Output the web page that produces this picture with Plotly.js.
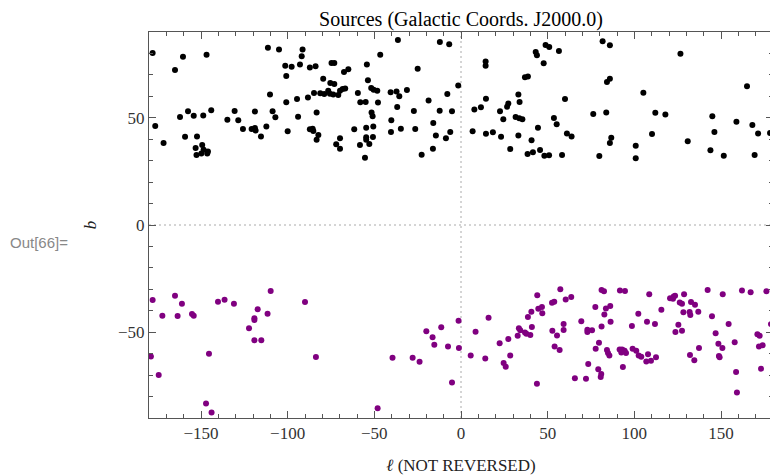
<!DOCTYPE html>
<html>
<head>
<meta charset="utf-8">
<script src="https://cdn.plot.ly/plotly-3.0.1.min.js"></script>
<style>
html,body{margin:0;padding:0;overflow:hidden;background:#fff;}
#chart{width:790px;height:476px;}
</style>
</head>
<body>
<div id="chart"></div>
<script>
// Northern sources (black): galactic longitude l, latitude b
const northL = [-177.9,-160.4,-146.8,-165.0,-176.4,-171.6,-162.1,-157.5,-154.2,-148.7,-144.1,-159.2,-152.3,
  -153.1,-149.3,-148.5,-152.6,-149.8,-146.0,-146.4,
  -134.8,-130.6,-128.5,-125.8,-120.8,-118.9,-118.5,-115.4,-118.9,-112.3,-111.4,-105.0,-108.7,-107.1,-110.2,
  -101.4,-97.7,-100.8,-92.9,-91.9,-91.4,-100.8,-94.6,-94.0,-100.0,
  -87.2,-83.9,-74.7,-73.1,-67.5,-65.0,-36.4,-46.6,-54.3,-12.2,-6.8,-25.0,-79.5,-75.4,-73.1,-88.3,-84.8,-81.2,
  -78.9,-76.6,-75.6,-73.7,-70.8,-69.8,-68.3,-66.8,-59.5,-53.7,-51.8,-50.4,-48.3,-58.1,-55.0,-47.9,-40.6,-37.2,
  -35.6,-31.2,-36.8,-83.3,-51.6,-51.0,-40.2,-27.2,-18.7,-12.3,-7.9,-5.2,-1.6,-16.0,-87.2,-85.6,-85.2,-82.3,
  -83.3,-69.8,-72.0,-69.8,-61.6,-54.7,-50.6,-54.7,-54.7,-50.8,-52.9,-58.3,-55.4,-40.4,-34.7,-26.4,-14.5,-8.7,
  -6.2,-16.2,-22.7,
  14.2,14.2,43.1,43.8,48.8,50.9,56.5,47.7,36.9,38.6,81.7,85.9,84.2,85.9,33.1,33.8,14.4,7.7,11.5,22.5,26.6,27.3,
  24.4,31.5,33.6,35.4,60.0,53.6,55.2,44.4,76.3,83.8,6.7,14.4,18.4,23.1,33.1,40.7,61.1,63.8,86.7,85.9,28.4,38.4,
  41.5,45.6,48.1,50.8,58.3,79.8,
  126.6,105.2,165.0,112.1,117.9,145.0,158.9,168.1,171.4,178.3,110.2,146.2,130.8,100.8,100.8,143.9,151.6,169.4];
const northB = [80.2,78.5,79.4,72.3,46.2,38.2,50.4,53.0,51.0,51.1,53.5,41.2,41.3,
  35.9,37.3,35.1,32.7,33.3,34.3,33.4,
  49.1,53.2,48.8,44.8,44.8,45.2,44.1,41.3,52.9,45.9,82.7,81.8,53.0,50.2,60.8,
  74.3,73.8,69.5,74.9,78.7,81.8,57.2,58.8,50.5,43.7,
  73.5,74.0,75.6,75.6,71.4,72.6,86.3,79.4,74.8,85.3,84.3,72.9,68.2,66.2,65.7,59.4,61.6,61.4,
  61.1,62.6,61.2,60.8,60.6,62.6,63.4,63.7,61.6,67.5,63.9,63.1,62.6,57.2,57.4,57.1,61.9,62.3,
  60.0,63.0,55.0,52.5,52.5,50.7,48.8,53.2,58.1,53.3,61.1,53.0,65.1,47.6,44.6,44.9,43.8,42.0,
  39.8,40.4,37.6,35.6,44.6,45.4,45.9,40.9,39.8,41.0,37.8,37.3,31.4,43.4,44.9,44.8,41.7,40.4,
  43.4,35.6,32.8,
  76.3,74.3,80.7,79.1,83.9,83.0,81.1,75.4,68.9,69.2,85.7,83.8,66.7,68.2,60.8,57.4,58.9,53.9,54.9,53.0,55.2,56.6,
  49.3,50.4,49.8,49.3,58.8,49.9,47.0,45.4,51.8,52.5,43.7,42.6,43.2,41.2,41.7,39.5,42.7,41.3,40.7,38.2,35.4,33.1,
  33.9,35.0,32.3,32.5,32.6,32.2,
  79.9,61.7,64.7,52.4,51.5,50.7,48.2,46.6,42.7,42.9,42.4,43.4,39.0,37.0,31.1,34.8,32.3,32.6];

// Southern sources (purple)
const southL = [-177.9,-178.9,-174.4,-172.3,-165.0,-161.0,-163.5,-155.2,-154.2,-145.4,-147.1,-143.9,-140.2,-136.4,
  -131.0,-122.3,-119.2,-119.2,-117.3,-111.6,-109.8,-119.2,-115.2,-90.0,
  -83.7,-48.1,-39.5,-27.9,-23.9,-20.0,-16.4,-15.4,
  -11.4,-1.4,-7.5,-1.2,-5.2,8.4,15.9,5.6,14.0,22.3,24.6,25.8,28.4,27.3,32.7,33.4,34.2,36.9,37.7,40.0,40.9,38.6,
  40.6,44.0,44.6,46.7,46.9,43.8,52.5,53.8,52.7,55.4,54.0,56.9,57.3,
  60.4,63.6,59.2,59.2,69.4,72.9,72.9,75.6,77.5,81.1,82.5,83.6,86.1,82.7,86.3,81.1,79.6,77.7,84.2,84.8,85.6,73.4,
  65.7,72.1,79.2,80.9,80.6,91.7,94.6,108.6,115.6,102.3,98.6,107.3,111.9,91.5,92.5,93.8,95.2,94.4,92.9,99.0,101.1,
  102.5,104.0,107.9,106.9,109.6,112.5,93.4,
  120.6,122.7,123.5,122.3,126.2,127.5,128.7,132.7,135.0,128.3,131.9,132.3,136.9,142.3,151.0,144.8,125.4,123.7,127.5,
  154.4,146.9,148.5,150.8,148.8,149.2,137.3,132.1,134.6,157.9,158.7,159.2,162.1,167.1,176.2,171.0,172.3,171.9,174.0,
  173.1,178.8];
const southB = [-35.0,-61.3,-70.0,-42.3,-33.0,-36.7,-42.4,-41.5,-42.3,-60.0,-83.2,-87.4,-35.8,-34.8,
  -36.7,-48.2,-43.5,-44.3,-39.3,-41.4,-30.8,-53.8,-53.8,-35.9,
  -61.6,-85.5,-61.9,-61.9,-63.8,-49.6,-52.4,-55.8,
  -47.7,-44.6,-56.6,-57.4,-73.5,-49.8,-43.2,-60.9,-62.3,-55.2,-64.4,-66.1,-60.9,-53.2,-51.6,-48.2,-49.1,-50.1,-50.7,-51.3,-47.6,-42.9,
  -40.4,-32.8,-39.0,-38.2,-41.2,-74.0,-36.2,-35.8,-49.3,-51.5,-56.6,-58.3,-30.0,
  -34.7,-33.6,-46.2,-49.0,-44.9,-48.8,-49.9,-49.1,-38.2,-30.3,-30.9,-38.9,-37.8,-41.7,-45.1,-47.3,-54.9,-57.7,-58.3,-59.7,-60.9,-64.8,
  -71.5,-71.7,-67.3,-69.5,-70.9,-30.6,-30.8,-32.3,-39.5,-41.4,-47.1,-45.1,-46.2,-58.1,-59.4,-58.5,-59.7,-58.6,-58.1,-57.7,-58.6,
  -60.9,-61.4,-60.3,-63.6,-63.3,-61.7,-66.2,
  -34.2,-33.3,-33.0,-34.4,-36.1,-36.7,-32.3,-35.9,-37.2,-40.7,-40.6,-42.0,-40.4,-30.3,-32.3,-42.6,-46.5,-49.9,-49.3,
  -46.2,-50.5,-55.4,-57.4,-61.1,-61.7,-57.4,-60.6,-63.1,-54.7,-68.6,-78.1,-30.6,-31.4,-30.9,-51.0,-51.6,-56.7,-56.1,
  -67.0,-46.2];

const xTickStep = 50, yTickStep = 50, minorStep = 10;
const titleText = 'Sources (Galactic Coords. J2000.0)';
const xTitle = '<i>ℓ</i> (NOT REVERSED)';
const yTitle = '<i>b</i>';
const outLabel = 'Out[66]=';

const serif = 'Liberation Serif, Times New Roman, serif';
const frameColor = '#555555';

const traces = [
  {x: northL, y: northB, type: 'scatter', mode: 'markers',
   marker: {size: 6, color: '#000000'}, hoverinfo: 'skip', showlegend: false},
  {x: southL, y: southB, type: 'scatter', mode: 'markers',
   marker: {size: 6, color: '#800080'}, hoverinfo: 'skip', showlegend: false}
];

function axisCommon() {
  return {
    ticks: 'inside', ticklen: 7, tickwidth: 1, tickcolor: frameColor,
    showline: true, linecolor: frameColor, linewidth: 1, mirror: 'ticks',
    showgrid: false, zeroline: false,
    tickfont: {family: serif, size: 17, color: '#333333'},
    minor: {dtick: minorStep, ticks: 'inside', ticklen: 4, tickwidth: 1, tickcolor: frameColor, showgrid: false}
  };
}

const layout = {
  width: 790, height: 476,
  margin: {l: 149, r: 17, t: 32, b: 58},
  paper_bgcolor: '#ffffff', plot_bgcolor: '#ffffff',
  title: {text: titleText, font: {family: serif, size: 20, color: '#000000'},
          x: 0.5, xref: 'paper', y: 1 - 19/476, yref: 'container', yanchor: 'middle'},
  xaxis: Object.assign(axisCommon(), {
    range: [-180, 180], tick0: 0, dtick: xTickStep,
    title: {text: xTitle, font: {family: serif, size: 17, color: '#222222'}, standoff: 16}
  }),
  yaxis: Object.assign(axisCommon(), {
    range: [-90, 90], tick0: 0, dtick: yTickStep,
    title: {text: yTitle, font: {family: serif, size: 17, color: '#222222'}, standoff: 17}
  }),
  shapes: [
    {type: 'line', xref: 'x', yref: 'paper', x0: 0, x1: 0, y0: 0, y1: 1,
     line: {color: '#aaaaaa', width: 1, dash: '2px,3px'}, layer: 'below'},
    {type: 'line', xref: 'paper', yref: 'y', x0: 0, x1: 1, y0: 0, y1: 0,
     line: {color: '#aaaaaa', width: 1, dash: '2px,3px'}, layer: 'below'}
  ],
  annotations: [
    {text: outLabel, xref: 'paper', yref: 'paper', x: (8 - 149) / 624, y: (418 - 243) / 386,
     xanchor: 'left', yanchor: 'middle', showarrow: false,
     font: {family: 'Liberation Sans, Arial, sans-serif', size: 15, color: '#888888'}}
  ]
};

Plotly.newPlot('chart', traces, layout, {displayModeBar: false, staticPlot: true});
</script>
</body>
</html>
